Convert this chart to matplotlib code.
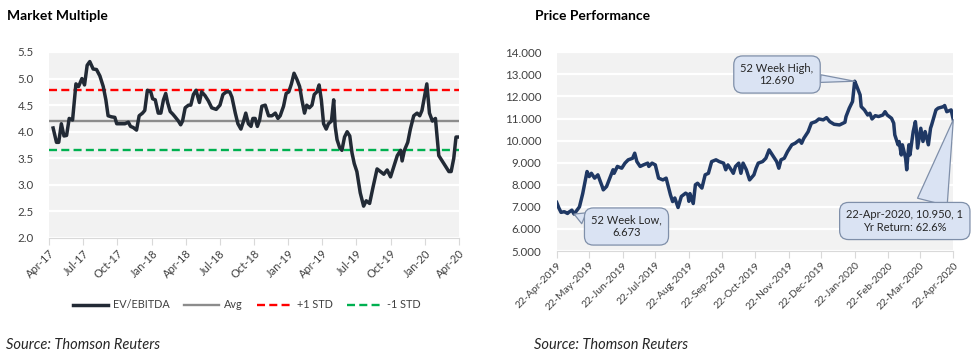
import matplotlib
matplotlib.use("Agg")
import matplotlib.pyplot as plt
import matplotlib.dates as mdates
import pandas as pd
from matplotlib.ticker import FormatStrFormatter, MultipleLocator

plt.rcParams["font.family"] = "Lato"

# EV/EBITDA multiple (left chart)
mm_dates = ["2017-04-12", "2017-04-21", "2017-04-27", "2017-05-04", "2017-05-11", "2017-05-18",
            "2017-05-25", "2017-06-03", "2017-06-12", "2017-06-19", "2017-06-28", "2017-07-05",
            "2017-07-12", "2017-07-19", "2017-07-28", "2017-08-06", "2017-08-15", "2017-08-24",
            "2017-08-31", "2017-09-06", "2017-09-15", "2017-09-24", "2017-09-29", "2017-10-12",
            "2017-10-21", "2017-10-30", "2017-11-05", "2017-11-12", "2017-11-21", "2017-11-28",
            "2017-12-07", "2017-12-13", "2017-12-20", "2017-12-29", "2018-01-03", "2018-01-10",
            "2018-01-18", "2018-01-25", "2018-02-01", "2018-02-07", "2018-02-12", "2018-02-19",
            "2018-02-26", "2018-03-04", "2018-03-13", "2018-03-19", "2018-03-24", "2018-03-31",
            "2018-04-09", "2018-04-15", "2018-04-22", "2018-04-29", "2018-05-08", "2018-05-14",
            "2018-05-23", "2018-06-01", "2018-06-10", "2018-06-22", "2018-07-02", "2018-07-10",
            "2018-07-19", "2018-07-28", "2018-08-03", "2018-08-12", "2018-08-19", "2018-08-27",
            "2018-09-03", "2018-09-09", "2018-09-16", "2018-09-23", "2018-09-28", "2018-10-04",
            "2018-10-10", "2018-10-16", "2018-10-22", "2018-10-31", "2018-11-09", "2018-11-18",
            "2018-11-27", "2018-12-04", "2018-12-10", "2018-12-19", "2018-12-26", "2019-01-02",
            "2019-01-09", "2019-01-16", "2019-01-24", "2019-01-31", "2019-02-06", "2019-02-13",
            "2019-02-19", "2019-02-26", "2019-03-05", "2019-03-11", "2019-03-18", "2019-03-24",
            "2019-03-30", "2019-04-05", "2019-04-12", "2019-04-18", "2019-04-26", "2019-05-02",
            "2019-05-06", "2019-05-11", "2019-05-18", "2019-05-24", "2019-05-31", "2019-06-07",
            "2019-06-14", "2019-06-20", "2019-06-26", "2019-07-03", "2019-07-12", "2019-07-21",
            "2019-07-28", "2019-08-06", "2019-08-15", "2019-08-26", "2019-09-04", "2019-09-13",
            "2019-09-22", "2019-10-01", "2019-10-10", "2019-10-19", "2019-10-28", "2019-11-01",
            "2019-11-07", "2019-11-16", "2019-11-23", "2019-12-02", "2019-12-11", "2019-12-18",
            "2019-12-24", "2020-01-06", "2020-01-13", "2020-01-21", "2020-01-29", "2020-02-07",
            "2020-02-16", "2020-02-25", "2020-03-05", "2020-03-11", "2020-03-18", "2020-03-24",
            "2020-04-01"]
ev_ebitda = [4.07, 3.80, 3.80, 4.15, 3.92, 3.93,
             4.25, 4.22, 4.90, 4.85, 5.00, 4.88,
             5.25, 5.32, 5.18, 5.17, 5.05, 4.85,
             4.60, 4.30, 4.28, 4.27, 4.15, 4.15,
             4.15, 4.18, 4.10, 4.08, 4.03, 4.30,
             4.35, 4.40, 4.78, 4.75, 4.62, 4.60,
             4.35, 4.35, 4.60, 4.72, 4.55, 4.38,
             4.33, 4.28, 4.20, 4.13, 4.20, 4.45,
             4.50, 4.50, 4.70, 4.78, 4.55, 4.75,
             4.68, 4.58, 4.45, 4.42, 4.50, 4.70,
             4.75, 4.75, 4.65, 4.35, 4.15, 4.05,
             4.20, 4.35, 4.15, 4.10, 4.25, 4.25,
             4.10, 4.22, 4.48, 4.50, 4.30, 4.30,
             4.35, 4.25, 4.30, 4.48, 4.72, 4.75,
             4.90, 5.10, 4.98, 4.85, 4.60, 4.35,
             4.50, 4.45, 4.50, 4.70, 4.75, 4.88,
             4.60, 4.15, 4.05, 4.15, 4.20, 4.60,
             4.10, 3.85, 3.70, 3.65, 3.90, 4.00,
             3.92, 3.60, 3.40, 3.25, 2.85, 2.60,
             2.70, 2.65, 2.95, 3.30, 3.25, 3.20,
             3.28, 3.15, 3.35, 3.55, 3.65, 3.45,
             3.65, 3.80, 4.05, 4.30, 4.35, 4.30,
             4.40, 4.90, 4.35, 4.20, 4.25, 3.55,
             3.45, 3.35, 3.25, 3.25, 3.50, 3.90,
             3.90]
avg_value = 4.21
plus_std = 4.78
minus_std = 3.65

# Share price (right chart)
px_dates = ["2019-04-22", "2019-04-24", "2019-04-26", "2019-04-29", "2019-05-02", "2019-05-03",
            "2019-05-06", "2019-05-08", "2019-05-10", "2019-05-13", "2019-05-16", "2019-05-20",
            "2019-05-22", "2019-05-24", "2019-05-27", "2019-05-30", "2019-06-03", "2019-06-04",
            "2019-06-07", "2019-06-10", "2019-06-13", "2019-06-14", "2019-06-17", "2019-06-21",
            "2019-06-24", "2019-06-27", "2019-07-01", "2019-07-03", "2019-07-05", "2019-07-08",
            "2019-07-11", "2019-07-15", "2019-07-16", "2019-07-19", "2019-07-22", "2019-07-25",
            "2019-07-29", "2019-08-01", "2019-08-05", "2019-08-07", "2019-08-09", "2019-08-12",
            "2019-08-15", "2019-08-19", "2019-08-21", "2019-08-22", "2019-08-23", "2019-08-26",
            "2019-08-28", "2019-08-30", "2019-09-03", "2019-09-06", "2019-09-09", "2019-09-12",
            "2019-09-16", "2019-09-19", "2019-09-23", "2019-09-25", "2019-09-27", "2019-09-30",
            "2019-10-02", "2019-10-04", "2019-10-07", "2019-10-09", "2019-10-11", "2019-10-14",
            "2019-10-17", "2019-10-21", "2019-10-23", "2019-10-25", "2019-10-29", "2019-11-01",
            "2019-11-04", "2019-11-06", "2019-11-11", "2019-11-13", "2019-11-15", "2019-11-18",
            "2019-11-21", "2019-11-25", "2019-11-28", "2019-12-02", "2019-12-04", "2019-12-06",
            "2019-12-10", "2019-12-13", "2019-12-17", "2019-12-20", "2019-12-24", "2019-12-27",
            "2019-12-30", "2020-01-03", "2020-01-08", "2020-01-13", "2020-01-14", "2020-01-17",
            "2020-01-20", "2020-01-21", "2020-01-22", "2020-01-24", "2020-01-27", "2020-01-28",
            "2020-01-31", "2020-02-03", "2020-02-05", "2020-02-07", "2020-02-10", "2020-02-13",
            "2020-02-17", "2020-02-19", "2020-02-21", "2020-02-25", "2020-02-27", "2020-02-28",
            "2020-03-02", "2020-03-03", "2020-03-05", "2020-03-06", "2020-03-09", "2020-03-10",
            "2020-03-11", "2020-03-12", "2020-03-13", "2020-03-16", "2020-03-18", "2020-03-19",
            "2020-03-20", "2020-03-23", "2020-03-25", "2020-03-27", "2020-03-30", "2020-04-01",
            "2020-04-02", "2020-04-06", "2020-04-08", "2020-04-13", "2020-04-14", "2020-04-16",
            "2020-04-20", "2020-04-22"]
price = [7.20, 6.95, 6.75, 6.78, 6.70, 6.75,
         6.85, 6.673, 6.80, 7.00, 7.60, 8.60,
         8.37, 8.52, 8.30, 8.45, 7.92, 7.77,
         7.92, 8.30, 8.68, 8.52, 8.83, 8.75,
         8.98, 9.13, 9.20, 9.43, 9.05, 8.83,
         8.90, 8.98, 8.83, 8.98, 8.90, 8.30,
         8.22, 8.30, 7.54, 7.24, 7.40, 6.97,
         7.47, 7.62, 7.55, 7.25, 7.60, 7.15,
         8.00, 8.07, 7.85, 8.45, 8.52, 9.05,
         9.13, 9.05, 8.98, 8.68, 8.90, 8.68,
         8.52, 8.83, 8.98, 8.52, 8.98, 8.68,
         8.22, 8.45, 8.75, 8.98, 9.05, 9.20,
         9.58, 9.43, 9.05, 8.75, 9.13, 9.20,
         9.50, 9.81, 9.88, 10.03, 9.88, 10.10,
         10.40, 10.79, 10.86, 10.98, 10.94, 11.04,
         10.86, 10.74, 10.71, 10.83, 11.09, 11.47,
         11.77, 12.22, 12.69, 12.45, 12.07, 11.54,
         11.39, 11.16, 11.24, 10.98, 11.13, 11.09,
         11.16, 11.31, 11.16, 11.01, 10.79, 10.26,
         9.81, 9.96, 9.35, 9.81, 9.20, 8.68,
         9.28, 9.81, 9.35, 10.41, 10.86, 10.41,
         9.66, 10.56, 9.96, 10.41, 9.81, 10.56,
         10.71, 11.39, 11.47, 11.54, 11.59, 11.31,
         11.39, 10.95]
low_label = "52 Week Low,\n6.673"
high_label = "52 Week High,\n12.690"
last_label = "22-Apr-2020, 10.950, 1\nYr Return: 62.6%"

mm_x = pd.to_datetime(mm_dates)
px_x = pd.to_datetime(px_dates)

TXT = "#404040"
fig = plt.figure(figsize=(9.78, 3.58), dpi=100)

# ---------- left: market multiple ----------
ax1 = fig.add_axes([49 / 978, 1 - 238 / 358, 410 / 978, 186 / 358])
ax1.set_facecolor("#f2f2f2")
ax1.plot(mm_x, ev_ebitda, color="#222a35", lw=2.5, zorder=5, label="EV/EBITDA")
ax1.axhline(avg_value, color="#8c8c8c", lw=1.7, zorder=3, label="Avg")
ax1.axhline(plus_std, color="#ff0000", lw=1.7, dashes=(3.4, 1.8), zorder=4, label="+1 STD")
ax1.axhline(minus_std, color="#00b050", lw=1.7, dashes=(3.4, 1.8), zorder=4, label="-1 STD")
ax1.set_ylim(2.0, 5.5)
ax1.yaxis.set_major_locator(MultipleLocator(0.5))
ax1.yaxis.set_major_formatter(FormatStrFormatter("%.1f"))
ax1.set_xlim(pd.Timestamp("2017-04-01"), pd.Timestamp("2020-04-01"))
ax1.xaxis.set_major_locator(mdates.MonthLocator(bymonth=[1, 4, 7, 10]))
ax1.xaxis.set_major_formatter(mdates.DateFormatter("%b-%y"))

# ---------- right: price performance ----------
ax2 = fig.add_axes([556.7 / 978, 1 - 251 / 358, 396.6 / 978, 198.7 / 358])
ax2.set_facecolor("#f2f2f2")
ax2.plot(px_x, price, color="#1f3864", lw=2.5, zorder=5)
ax2.set_ylim(5, 14)
ax2.yaxis.set_major_locator(MultipleLocator(1))
ax2.yaxis.set_major_formatter(FormatStrFormatter("%.3f"))
ax2.set_xlim(pd.Timestamp("2019-04-22"), pd.Timestamp("2020-04-22"))
ax2.xaxis.set_major_locator(mdates.MonthLocator(bymonthday=22))
ax2.xaxis.set_major_formatter(mdates.DateFormatter("%d-%b-%Y"))

for ax, xsize in ((ax1, 8), (ax2, 7.5)):
    ax.grid(axis="y", color="white", lw=1.6)
    ax.set_axisbelow(True)
    for s in ("top", "right", "left"):
        ax.spines[s].set_visible(False)
    ax.spines["bottom"].set_color("#d9d9d9")
    ax.tick_params(axis="y", length=0, pad=11, labelsize=8.3, labelcolor=TXT)
    ax.tick_params(axis="x", length=5, color="#d9d9d9", labelsize=xsize, labelcolor=TXT, pad=2)
    for lab in ax.get_xticklabels():
        lab.set_rotation(45)
        lab.set_ha("right")
        lab.set_va("top")
        lab.set_rotation_mode("anchor")

# callouts
box = dict(boxstyle="round,pad=0.6,rounding_size=0.8", fc="#dae3f3", ec="#7f8fa9", lw=0.9)
i_low = price.index(min(price))
i_high = price.index(max(price))
ax2.annotate(low_label, xy=(px_x[i_low], price[i_low]), xytext=(626.5, 131.5), textcoords="figure pixels",
             ha="center", va="center", fontsize=8, color="#262626", bbox=box, zorder=8,
             arrowprops=dict(arrowstyle="wedge,tail_width=0.85", fc="#dae3f3", ec="#7f8fa9", lw=0.9,
                             relpos=(0.0, 0.72), mutation_scale=10, shrinkA=0, shrinkB=0))
ax2.annotate(high_label, xy=(px_x[i_high], price[i_high]), xytext=(777, 283.5), textcoords="figure pixels",
             ha="center", va="center", fontsize=8, color="#262626", bbox=box, zorder=8,
             arrowprops=dict(arrowstyle="wedge,tail_width=0.55", fc="#dae3f3", ec="#7f8fa9", lw=0.9,
                             relpos=(1.0, 0.35), mutation_scale=10, shrinkA=0, shrinkB=0))
ax2.annotate(last_label, xy=(px_x[-1], price[-1]), xytext=(904.8, 137), textcoords="figure pixels",
             ha="center", va="center", fontsize=8, color="#262626", bbox=box, zorder=8,
             annotation_clip=False,
             arrowprops=dict(arrowstyle="wedge,tail_width=2.2", fc="#dae3f3", ec="#7f8fa9", lw=0.9,
                             relpos=(0.72, 1.0), mutation_scale=10, shrinkA=0, shrinkB=0))

# titles, legend, sources
fig.text(7 / 978, 1 - 16 / 358, "Market Multiple", fontsize=10, fontweight="bold", color="black", va="center")
fig.text(535 / 978, 1 - 16 / 358, "Price Performance", fontsize=10, fontweight="bold", color="black", va="center")
fig.text(6 / 978, 1 - 345 / 358, "Source: Thomson Reuters", fontsize=10.5, style="italic", color="#262626", va="center")
fig.text(534 / 978, 1 - 345 / 358, "Source: Thomson Reuters", fontsize=10.5, style="italic", color="#262626", va="center")

handles, labels = ax1.get_legend_handles_labels()
fig.legend(handles, labels, loc="center", bbox_to_anchor=(247 / 978, 1 - 305 / 358), ncol=4,
           frameon=False, fontsize=7.8, handlelength=3.2, handletextpad=0.5, columnspacing=1.3,
           labelcolor=TXT)

fig.savefig("out.png", dpi=100)
